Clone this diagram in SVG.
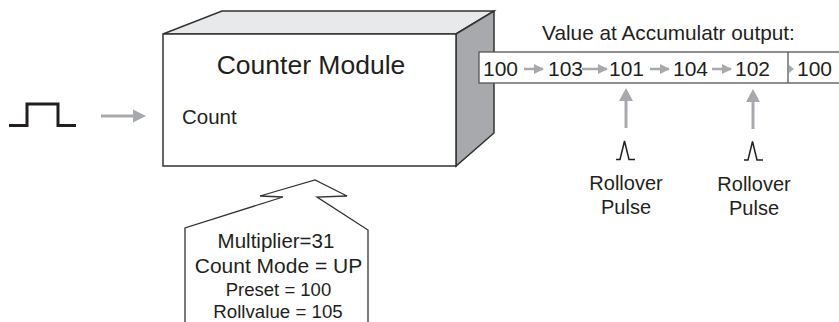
<svg xmlns="http://www.w3.org/2000/svg" width="839" height="322" viewBox="0 0 839 322">
<style>
text{font-family:"Liberation Sans",Arial,sans-serif;fill:#231f20}
.edge{stroke:#333;stroke-width:1.5;stroke-linejoin:miter}
.garrow{stroke:#a7a9ac;stroke-width:3;fill:none}
.ghead{fill:#a7a9ac}
.pulse{stroke:#231f20;fill:none}
</style>
<defs>
<marker id="sm" markerWidth="10" markerHeight="10" refX="9" refY="5" orient="auto" markerUnits="userSpaceOnUse">
<path d="M0,0 L10,5 L0,10 Z" fill="#a7a9ac"/>
</marker>
</defs>
<rect width="839" height="322" fill="#fff"/>

<g id="input-pulse">
<path class="pulse" stroke-width="3" d="M9,125.5 H27 V104 H58 V125.5 H76"/>
</g>

<g id="counter-module">
<path d="M163,34 L222,11 L494,11 L456,34 Z" fill="#e8e9ea" class="edge"/>
<path d="M456,34 L494,11 L494,133 L456,166 Z" fill="#a7a9ac" class="edge"/>
<rect x="163" y="34" width="293" height="132" fill="#fff" class="edge"/>
<text x="311" y="74" font-size="26.5" text-anchor="middle">Counter Module</text>
<text x="182" y="124" font-size="20.5">Count</text>
</g>

<g id="settings">
<path d="M185,322 V228 L283,197 L260,196 L315,180 L347,196 L317,197 L368,230 V322" fill="#fff" stroke="#333" stroke-width="1.3"/>
<text x="276" y="248" font-size="20.5" text-anchor="middle">Multiplier=31</text>
<text x="278.5" y="273" font-size="21" text-anchor="middle">Count Mode = UP</text>
<text x="278.5" y="296" font-size="18.5" text-anchor="middle">Preset = 100</text>
<text x="278" y="318" font-size="18.7" text-anchor="middle">Rollvalue = 105</text>
</g>

<g id="accumulator">
<text x="668.5" y="40" font-size="20.8" text-anchor="middle">Value at Accumulatr output:</text>
<rect x="479" y="52" width="370" height="31" fill="#fff" stroke="#555" stroke-width="1.3"/>
<line x1="788" y1="52" x2="788" y2="83" stroke="#555" stroke-width="1.3"/>
<g font-size="21">
<text x="483" y="76">100</text>
<text x="548" y="76">103</text>
<text x="609" y="76">101</text>
<text x="673" y="76">104</text>
<text x="735" y="76">102</text>
<text x="797" y="76">100</text>
</g>
</g>

<g id="rollover-1">
<path class="pulse" stroke-width="1.5" d="M616,159.5 H620 L624.5,141 L629,159.5 H635"/>
<text x="626" y="190" font-size="20" text-anchor="middle">Rollover</text>
<text x="626" y="214" font-size="20" text-anchor="middle">Pulse</text>
</g>
<g id="rollover-2">
<path class="pulse" stroke-width="1.5" d="M744,160 H748 L752.5,141.5 L757,160 H763"/>
<text x="754" y="191" font-size="20" text-anchor="middle">Rollover</text>
<text x="754" y="215" font-size="20" text-anchor="middle">Pulse</text>
</g>

<g id="connectors">
<line class="garrow" x1="101" y1="116" x2="134" y2="116"/>
<path class="ghead" d="M133,109.5 L146,116 L133,122.5 Z"/>
<g stroke="#a7a9ac" stroke-width="2.5" marker-end="url(#sm)">
<line x1="524" y1="69" x2="543" y2="69"/>
<line x1="582" y1="69" x2="607" y2="69"/>
<line x1="650" y1="69" x2="669" y2="69"/>
<line x1="712" y1="69" x2="731" y2="69"/>
</g>
<path class="ghead" d="M789,65 L794,69 L789,73 Z"/>
<line class="garrow" x1="626" y1="128" x2="626" y2="99"/>
<path class="ghead" d="M619,101 L626,88 L633,101 Z"/>
<line class="garrow" x1="753" y1="129" x2="753" y2="100"/>
<path class="ghead" d="M746,102 L753,89 L760,102 Z"/>
</g>
</svg>
